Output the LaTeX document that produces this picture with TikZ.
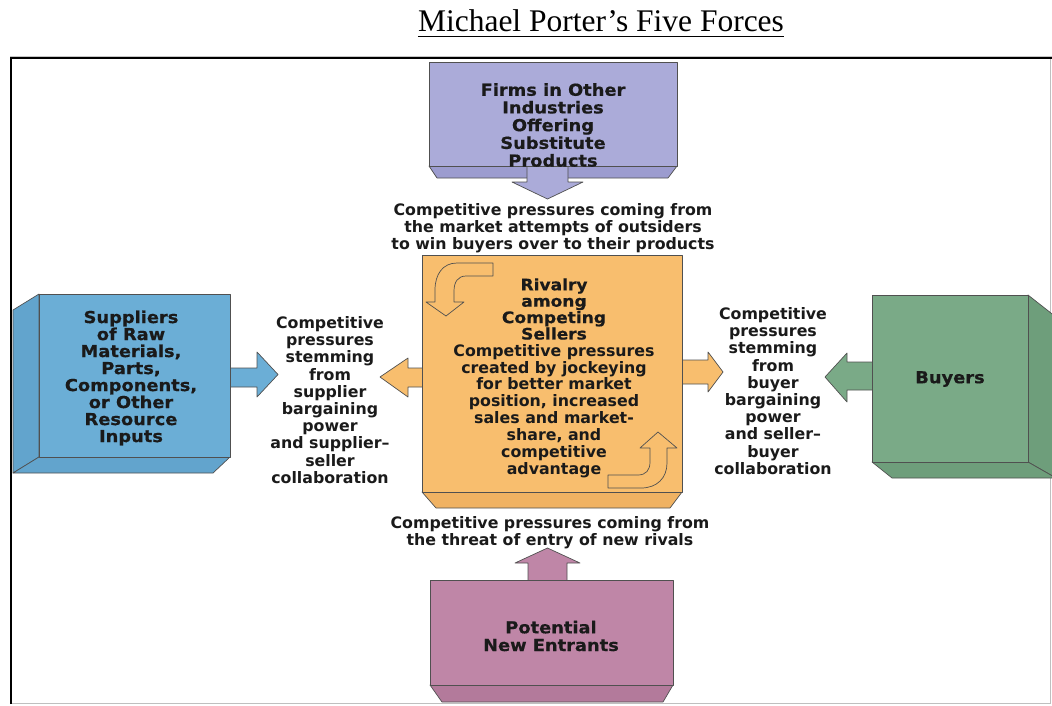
\documentclass[tikz,border=0pt]{standalone}
\usepackage{fontspec}
\setmainfont{Liberation Serif}
\newfontfamily\labfont{DejaVu Sans}
\newfontfamily\heavyfont{DejaVu Sans}[BoldFeatures={FakeBold=0.5, FakeStretch=1.08}]

\definecolor{linec}{HTML}{505050}
\definecolor{txt}{HTML}{1A1A1A}
\definecolor{purpfront}{HTML}{ABABD9}
\definecolor{purpside}{HTML}{9C9CCF}
\definecolor{bluefront}{HTML}{6BAED6}
\definecolor{blueside}{HTML}{62A4CD}
\definecolor{orfront}{HTML}{F8BE6E}
\definecolor{orside}{HTML}{F0B262}
\definecolor{grfront}{HTML}{7AAA87}
\definecolor{grside}{HTML}{6E9E7B}
\definecolor{pkfront}{HTML}{BF86A7}
\definecolor{pkside}{HTML}{B37A9B}

\tikzset{
  face/.style={draw=linec, line width=0.7pt, line join=round},
  lab/.style={font=\labfont\bfseries\fontsize{15.8}{17.2}\selectfont,
    align=center, inner sep=0pt, text=txt},
  boxtext/.style={font=\heavyfont\bfseries\fontsize{16.5}{17.7}\selectfont,
    align=center, inner sep=0pt, text=txt},
}

\begin{document}
\begin{tikzpicture}[x=1pt,y=-1pt]
\useasboundingbox (0,0) rectangle (1052,705);
\clip (0,0) rectangle (1052,705);

% title
\node[anchor=base, inner sep=0pt, font=\fontsize{31.5}{36}\selectfont] (title) at (601,31)
  {Michael Porter’s Five Forces};
\draw[line width=1.4pt] ([yshift=-5.5pt]title.base west) -- ([yshift=-5.5pt]title.base east);

% outer frame
\draw[line width=0.8pt, gray!50] (11,703) -- (1050,703) -- (1050,58);
\draw[line width=0.8pt, gray!45] (10,56) -- (1052,56);
\draw[line width=2.4pt, black] (11,704) -- (11,58) -- (1052,58);

% ---- substitutes (top) ----
\filldraw[face, fill=purpside] (429,166) -- (437,178) -- (668,178) -- (677,166) -- cycle;
\fill[purpfront] (527,165) -- (527,182) -- (512,182) -- (547.5,199) -- (583,182) -- (568,182) -- (568,165) -- cycle;
\draw[face] (527,166) -- (527,182) -- (512,182) -- (547.5,199) -- (583,182) -- (568,182) -- (568,166);
\filldraw[face, fill=purpfront] (429,62) rectangle (677,166);
\node[boxtext] (subst) at (553,125)
  {Firms in Other\\Industries\\Offering\\Substitute\\Products};

\node[lab] (substlab) at (553,228)
  {Competitive pressures coming from\\the market attempts of outsiders\\to win buyers over to their products};

% ---- rivalry (centre) ----
\filldraw[face, fill=orside] (422,492) -- (436,508) -- (670,508) -- (682,492) -- cycle;
% left and right block arrows
\fill[orfront] (423,368) -- (408,368) -- (408,358) -- (380,377) -- (408,397) -- (408,387) -- (423,387) -- cycle;
\draw[face] (422,368) -- (408,368) -- (408,358) -- (380,377) -- (408,397) -- (408,387) -- (422,387);
\fill[orfront] (681,360) -- (708,360) -- (708,352) -- (723,372) -- (708,392) -- (708,384) -- (681,384) -- cycle;
\draw[face] (682,360) -- (708,360) -- (708,352) -- (723,372) -- (708,392) -- (708,384) -- (682,384);
\filldraw[face, fill=orfront] (422,255) rectangle (682,492);
% curved arrows inside
\filldraw[face, fill=orfront] (493,263) -- (457,263)
  .. controls (443,263) and (435,274) .. (435,290) -- (435,302) -- (426,302)
  -- (446,316) -- (464,302) -- (454,302) -- (454,291)
  .. controls (454,282) and (458,276) .. (466,276) -- (493,276) -- cycle;
\filldraw[face, fill=orfront] (608,488) -- (641,488)
  .. controls (657,488) and (667,478) .. (667,463) -- (667,448) -- (677,448)
  -- (658,432) -- (640,448) -- (650,448) -- (650,462)
  .. controls (650,470) and (646,475) .. (638,475) -- (608,475) -- cycle;
\node[boxtext, font=\heavyfont\bfseries\fontsize{15.8}{16.4}\selectfont] (rivalry) at (554,309)
  {Rivalry\\among\\Competing\\Sellers};
\node[lab, font=\labfont\bfseries\fontsize{15.8}{16.9}\selectfont] (rivalrylab) at (554,411)
  {Competitive pressures\\created by jockeying\\for better market\\position, increased\\sales and market-\\share, and\\competitive\\advantage};

% ---- suppliers (left) ----
\filldraw[face, fill=blueside] (39,294) -- (13,310) -- (13,473) -- (39,457) -- cycle;
\filldraw[face, fill=blueside] (39,457) -- (13,473) -- (213,473) -- (230,457) -- cycle;
\fill[bluefront] (229,368) -- (257,368) -- (257,352) -- (278,374.5) -- (257,397) -- (257,387) -- (229,387) -- cycle;
\draw[face] (230,368) -- (257,368) -- (257,352) -- (278,374.5) -- (257,397) -- (257,387) -- (230,387);
\filldraw[face, fill=bluefront] (39,294) rectangle (230,457);
\node[boxtext, font=\heavyfont\bfseries\fontsize{16.5}{17}\selectfont] (suppliers) at (131,378)
  {Suppliers\\of Raw\\Materials,\\Parts,\\Components,\\or Other\\Resource\\Inputs};
\node[lab] (supplab) at (330,400)
  {Competitive\\pressures\\stemming\\from\\supplier\\bargaining\\power\\and supplier–\\seller\\collaboration};

% ---- buyers (right) ----
\filldraw[face, fill=grside] (1028,295) -- (1056,317) -- (1056,478) -- (1028,462) -- cycle;
\filldraw[face, fill=grside] (872,462) -- (892,478) -- (1056,478) -- (1028,462) -- cycle;
\fill[grfront] (873,362) -- (847,362) -- (847,353) -- (825,377) -- (847,402) -- (847,390) -- (873,390) -- cycle;
\draw[face] (872,362) -- (847,362) -- (847,353) -- (825,377) -- (847,402) -- (847,390) -- (872,390);
\filldraw[face, fill=grfront] (872,295) rectangle (1028,462);
\node[boxtext] (buyers) at (950,379) {Buyers};
\node[lab] (buylab) at (773,391)
  {Competitive\\pressures\\stemming\\from\\buyer\\bargaining\\power\\and seller–\\buyer\\collaboration};

% ---- new entrants (bottom) ----
\node[lab] (entrlab) at (550,533)
  {Competitive pressures coming from\\the threat of entry of new rivals};
\filldraw[face, fill=pkside] (430,685) -- (442,702) -- (663,702) -- (673,685) -- cycle;
\fill[pkfront] (528,581) -- (528,563) -- (515,563) -- (547.5,548) -- (580,563) -- (567,563) -- (567,581) -- cycle;
\draw[face] (528,580) -- (528,563) -- (515,563) -- (547.5,548) -- (580,563) -- (567,563) -- (567,580);
\filldraw[face, fill=pkfront] (430,580) rectangle (673,685);
\node[boxtext] (entrants) at (551,636) {Potential\\New Entrants};
\end{tikzpicture}
\end{document}
